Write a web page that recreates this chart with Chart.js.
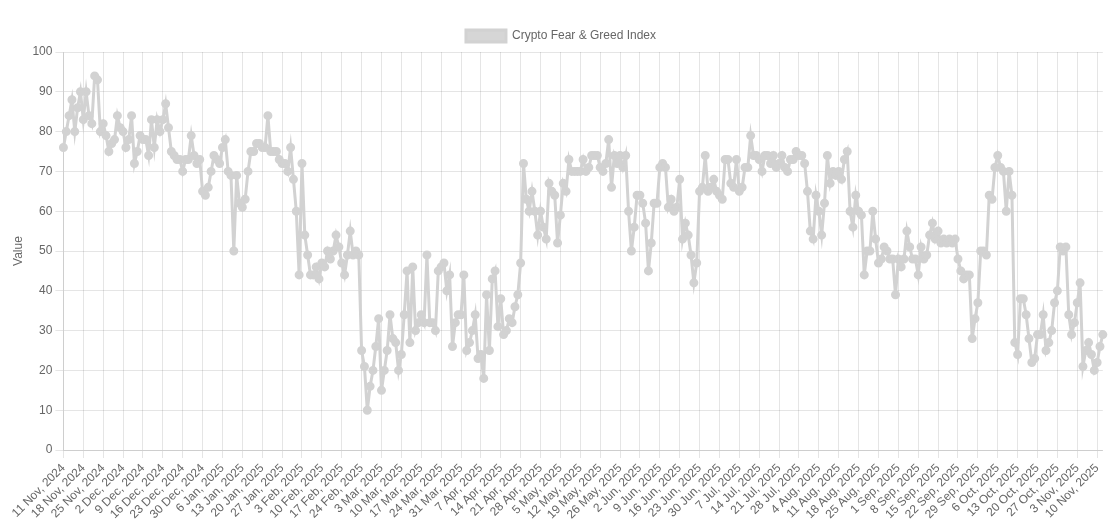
<!DOCTYPE html>
<html><head><meta charset="utf-8">
<script src="https://cdn.jsdelivr.net/npm/chart.js@4"></script>
<style>html,body{margin:0;padding:0;background:#fff}#w{width:1116px;height:525px}</style>
</head><body><div id="w"><canvas id="c"></canvas></div>
<script>
const startDate = [2024, 10, 11];
const seriesName = "Crypto Fear & Greed Index";
const values = [
76,80,84,88,80,86,90,
83,90,84,82,94,93,80,
82,79,75,77,78,84,81,
80,76,78,84,72,75,79,
78,78,74,83,76,83,80,
83,87,81,75,74,73,73,
70,73,73,79,74,72,73,
65,64,66,70,74,73,72,
76,78,70,69,50,69,62,
61,63,70,75,75,77,77,
76,76,84,75,75,75,73,
72,72,70,76,68,60,44,
72,54,49,44,44,46,43,
47,46,50,48,50,54,51,
47,44,49,55,49,50,49,
25,21,10,16,20,26,33,
15,20,25,34,28,27,20,
24,34,45,27,46,30,32,
34,32,49,32,32,30,45,
46,47,40,44,26,32,34,
34,44,25,27,30,34,23,
24,18,39,25,43,45,31,
38,29,30,33,32,36,39,
47,72,63,60,65,60,54,
60,56,53,67,65,64,52,
59,67,65,73,70,70,70,
70,73,70,71,74,74,74,
71,70,72,78,66,74,72,
74,71,74,60,50,56,64,
64,62,57,45,52,62,62,
71,72,71,61,63,60,61,
68,53,57,54,49,42,47,
65,66,74,65,66,68,65,
64,63,73,73,67,66,73,
65,66,71,71,79,74,74,
73,70,74,74,72,74,71,
72,74,71,70,73,73,75,
74,74,72,65,55,53,64,
60,54,62,74,67,70,69,
70,68,73,75,60,56,64,
60,59,44,50,50,60,53,
47,48,51,50,48,48,39,
48,46,48,55,51,48,48,
44,51,48,49,54,57,53,
55,52,53,52,53,52,53,
48,45,43,44,44,28,33,
37,50,50,49,64,63,71,
74,71,70,60,70,64,27,
24,38,38,34,28,22,23,
29,29,34,25,27,30,37,
40,51,50,51,34,29,32,
37,42,21,25,27,24,20,
22,26,29
];
const months = ["Jan","Feb","Mar","Apr","May","Jun","Jul","Aug","Sep","Oct","Nov","Dec"];
const labels = values.map((v,i)=>{const d=new Date(Date.UTC(startDate[0],startDate[1],startDate[2]+i));return d.getUTCDate()+" "+months[d.getUTCMonth()]+", "+d.getUTCFullYear();});
Chart.defaults.font.family = "'Liberation Sans', Arial, sans-serif";
Chart.defaults.font.size = 12;
Chart.defaults.color = '#666';
new Chart(document.getElementById('c'), {
  type: 'line',
  data: { labels, datasets: [{ label: seriesName, data: values,
    borderColor: 'rgb(210,210,210)', backgroundColor: 'rgba(210,210,210,0.9)',
    borderWidth: 3, pointRadius: 3, pointBackgroundColor: 'rgb(210,210,210)', pointBorderColor: 'rgb(210,210,210)', tension: 0 }] },
  options: {
    responsive: true, maintainAspectRatio: false, animation: false,
    layout: { padding: { top: 20, left: 7, right: 1 } },
    plugins: { legend: { labels: { boxWidth: 40, boxHeight: 12 } }, tooltip: { enabled: false } },
    scales: {
      x: { grid: { color: c => (c.index % 7 === 0 ? 'rgba(0,0,0,0.1)' : 'transparent') },
        ticks: { autoSkip: false, minRotation: 45, maxRotation: 45,
          callback: function(v, i) { return i % 7 === 0 ? this.getLabelForValue(v) : ''; } } },
      y: { min: 0, max: 100, ticks: { stepSize: 10 }, title: { display: true, text: 'Value' },
        grid: { color: 'rgba(0,0,0,0.1)' } }
    }
  }
});
</script></body></html>
